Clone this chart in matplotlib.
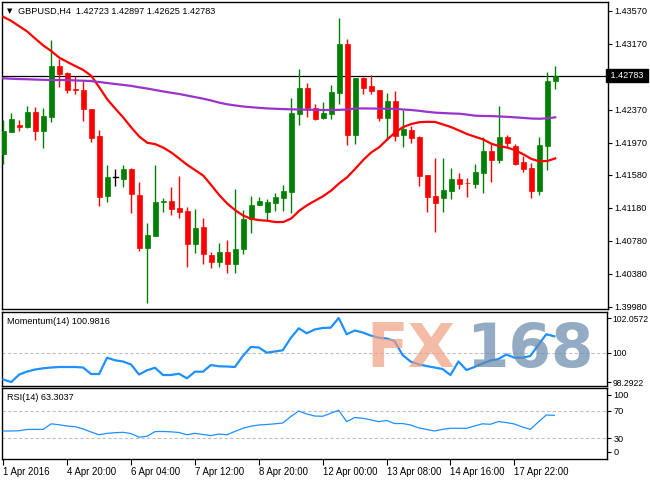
import matplotlib
matplotlib.use('Agg')
import matplotlib.pyplot as plt
from matplotlib.patches import Rectangle
import numpy as np

plt.rcParams['font.family'] = ['Liberation Sans', 'DejaVu Sans']

# ---------------- data ----------------
opens = [1.41830, 1.42104, 1.42189, 1.42161, 1.42342, 1.42116, 1.42285, 1.42900, 1.42819, 1.42618,
         1.42609, 1.42379, 1.42052, 1.41328, 1.41551, 1.41534, 1.41652, 1.41336, 1.40698, 1.40843,
         1.41248, 1.41264, 1.41175, 1.41146, 1.40746, 1.40945, 1.40609, 1.40528, 1.40642, 1.40496,
         1.40678, 1.41042, 1.41212, 1.41130, 1.41243, 1.41304, 1.41376, 1.42318, 1.42633, 1.42387,
         1.42273, 1.42322, 1.42573, 1.43167, 1.42064, 1.42751, 1.42658, 1.42609, 1.42273, 1.42476,
         1.42067, 1.42124, 1.42043, 1.41579, 1.41324, 1.41304, 1.41389, 1.41530, 1.41486, 1.41470,
         1.41607, 1.41870, 1.41761, 1.42043, 1.41934, 1.41736, 1.41667, 1.41389, 1.41934, 1.42723]
highs = [1.42245, 1.42327, 1.42245, 1.42415, 1.42399, 1.42387, 1.43215, 1.42985, 1.42827, 1.42779,
         1.42715, 1.42379, 1.42124, 1.41700, 1.41648, 1.41700, 1.41660, 1.41498, 1.40993, 1.41700,
         1.41296, 1.41437, 1.41567, 1.41195, 1.41167, 1.41054, 1.40649, 1.40758, 1.40791, 1.41405,
         1.41155, 1.41328, 1.41308, 1.41288, 1.41364, 1.41454, 1.42516, 1.42864, 1.42690, 1.42439,
         1.42464, 1.42670, 1.43485, 1.43224, 1.42751, 1.42770, 1.42791, 1.42609, 1.42569, 1.42601,
         1.42367, 1.42173, 1.42052, 1.41579, 1.41781, 1.41781, 1.41667, 1.41607, 1.41539, 1.41712,
         1.42036, 1.41963, 1.42415, 1.42064, 1.41955, 1.41809, 1.41721, 1.42043, 1.42831, 1.42897]
lows = [1.41709, 1.42100, 1.42116, 1.42149, 1.42003, 1.41902, 1.42225, 1.42649, 1.42576, 1.42561,
        1.42237, 1.41982, 1.41203, 1.41255, 1.41449, 1.41430, 1.41122, 1.40661, 1.40031, 1.40839,
        1.41127, 1.41094, 1.41061, 1.40467, 1.40637, 1.40496, 1.40455, 1.40460, 1.40387, 1.40395,
        1.40621, 1.40879, 1.41210, 1.41025, 1.41142, 1.41142, 1.41115, 1.42185, 1.42285, 1.42245,
        1.42261, 1.42261, 1.42436, 1.41942, 1.41955, 1.42561, 1.42561, 1.42233, 1.42003, 1.41995,
        1.41915, 1.41970, 1.41449, 1.41134, 1.40892, 1.41134, 1.41288, 1.41409, 1.41316, 1.41425,
        1.41357, 1.41498, 1.41728, 1.41922, 1.41700, 1.41615, 1.41304, 1.41336, 1.41639, 1.42625]
closes = [1.42112, 1.42258, 1.42164, 1.42342, 1.42116, 1.42294, 1.42900, 1.42803, 1.42609, 1.42609,
          1.42375, 1.42031, 1.41316, 1.41551, 1.41551, 1.41652, 1.41345, 1.40698, 1.40852, 1.41252,
          1.41264, 1.41170, 1.41130, 1.40746, 1.40933, 1.40618, 1.40521, 1.40642, 1.40496, 1.40682,
          1.41045, 1.41215, 1.41264, 1.41252, 1.41312, 1.41385, 1.42334, 1.42637, 1.42395, 1.42258,
          1.42330, 1.42585, 1.43167, 1.42064, 1.42751, 1.42637, 1.42601, 1.42273, 1.42476, 1.42055,
          1.42133, 1.42031, 1.41570, 1.41316, 1.41243, 1.41397, 1.41530, 1.41470, 1.41478, 1.41615,
          1.41870, 1.41761, 1.42043, 1.41970, 1.41712, 1.41655, 1.41389, 1.41942, 1.42718, 1.42783]

ma_red = [1.43496, 1.43447, 1.43382, 1.43318, 1.43232, 1.43149, 1.43081, 1.43001, 1.42949, 1.42900,
          1.42852, 1.42781, 1.42642, 1.42496, 1.42384, 1.42276, 1.42155, 1.42045, 1.41970, 1.41953,
          1.41911, 1.41852, 1.41778, 1.41702, 1.41637, 1.41572, 1.41456, 1.41336, 1.41232, 1.41152,
          1.41087, 1.41048, 1.41032, 1.41025, 1.41009, 1.41009, 1.41052, 1.41146, 1.41214, 1.41269,
          1.41323, 1.41391, 1.41479, 1.41553, 1.41654, 1.41761, 1.41853, 1.41916, 1.42010, 1.42096,
          1.42161, 1.42197, 1.42219, 1.42224, 1.42222, 1.42191, 1.42159, 1.42118, 1.42075, 1.42042,
          1.42010, 1.41959, 1.41929, 1.41912, 1.41879, 1.41831, 1.41775, 1.41745, 1.41749, 1.41780]
ma_purple = [1.42751, 1.42746, 1.42742, 1.42740, 1.42736, 1.42733, 1.42730, 1.42730, 1.42730, 1.42725,
             1.42722, 1.42717, 1.42706, 1.42694, 1.42682, 1.42671, 1.42659, 1.42642, 1.42627, 1.42609,
             1.42592, 1.42576, 1.42561, 1.42542, 1.42523, 1.42504, 1.42482, 1.42456, 1.42436, 1.42422,
             1.42409, 1.42401, 1.42393, 1.42386, 1.42382, 1.42378, 1.42375, 1.42373, 1.42370, 1.42369,
             1.42367, 1.42367, 1.42369, 1.42373, 1.42386, 1.42386, 1.42385, 1.42384, 1.42382, 1.42381,
             1.42373, 1.42367, 1.42357, 1.42345, 1.42335, 1.42330, 1.42325, 1.42322, 1.42311, 1.42298,
             1.42295, 1.42293, 1.42289, 1.42284, 1.42278, 1.42271, 1.42264, 1.42261, 1.42266, 1.42278]

momentum = [98.441, 98.2922, 98.735, 98.912, 99.029, 99.100, 99.147, 99.176, 99.176, 99.176,
            99.147, 98.765, 98.765, 99.724, 99.571, 99.500, 99.324, 98.735, 98.982, 99.135,
            98.706, 98.706, 98.782, 98.512, 98.900, 98.900, 99.294, 99.218, 99.206, 99.176,
            99.824, 100.353, 100.324, 100.018, 100.088, 100.159, 100.882, 101.453, 101.159, 101.382,
            101.471, 101.488, 102.0572, 101.100, 101.324, 101.206, 101.029, 100.900, 100.853, 100.706,
            99.882, 99.500, 99.335, 99.235, 99.147, 99.059, 98.706, 99.500, 99.000, 99.176,
            99.382, 99.559, 99.647, 99.912, 99.724, 99.724, 99.824, 100.471, 101.100, 100.9816]
rsi = [40.6, 40.6, 41.0, 42.8, 43.0, 43.0, 51.0, 49.6, 47.8, 46.8,
       43.5, 39.1, 35.1, 37.2, 38.1, 38.7, 36.8, 31.6, 32.9, 39.7,
       39.9, 39.4, 38.4, 35.1, 37.2, 35.5, 33.9, 36.2, 35.1, 39.9,
       44.5, 47.5, 49.3, 50.0, 51.0, 52.2, 61.4, 69.6, 65.2, 62.3,
       61.9, 66.2, 70.6, 54.1, 60.1, 59.1, 56.8, 54.1, 55.9, 51.4,
       51.4, 49.3, 45.2, 42.8, 40.6, 43.0, 44.5, 44.5, 44.5, 47.8,
       51.0, 50.3, 54.3, 52.8, 50.7, 46.4, 43.0, 53.6, 63.8, 63.3037]

price_ticks = [1.43570, 1.43170, 1.42370, 1.41970, 1.41580, 1.41180, 1.40780, 1.40380, 1.39980]
mom_ticks = [98.2922, 100, 102.0572]
mom_tick_labels = ['98.2922', '100', '102.0572']
rsi_levels = [30, 70]
rsi_tick_labels = ['0', '30', '70', '100']
time_tick_bars = [0, 8, 16, 24, 32, 40, 48, 56, 64]
time_labels = ['1 Apr 2016', '4 Apr 20:00', '6 Apr 04:00', '7 Apr 12:00', '8 Apr 20:00',
               '12 Apr 00:00', '13 Apr 08:00', '14 Apr 16:00', '17 Apr 22:00']
symbol = 'GBPUSD,H4'

# ---------------- layout ----------------
W, H = 650, 480
fig = plt.figure(figsize=(6.5, 4.8), dpi=100)
fig.patch.set_facecolor('white')

def px_axes(left, top, right, bottom):
    return fig.add_axes([left / W, 1 - bottom / H, (right - left) / W, (bottom - top) / H])

ax1 = px_axes(2, 2, 608, 309)
ax2 = px_axes(2, 312, 607, 386)
ax3 = px_axes(2, 388, 607, 459)

n = len(closes)
x = np.arange(n)
XL = (-0.16, 75.6)
FS = 6.6
GREEN = '#008000'
RED = '#FF0000'
BLUE = '#1E90FF'

for ax in (ax1, ax2, ax3):
    ax.set_xlim(*XL)
    ax.set_facecolor('white')
    for s in ax.spines.values():
        s.set_color('black')
        s.set_linewidth(1.0)
    ax.yaxis.tick_right()
    ax.tick_params(axis='y', direction='out', length=3, width=0.8, pad=1.5,
                   labelsize=FS, colors='black')
    ax.tick_params(axis='x', bottom=False, labelbottom=False)

# ---- candles ----
bw = 0.62
for i in range(n):
    o, h, l, c = opens[i], highs[i], lows[i], closes[i]
    if c > o:
        col = GREEN
    elif c < o:
        col = RED
    else:
        col = 'black'
    ax1.plot([i, i], [l, h], color=col, lw=1.0, solid_capstyle='butt', zorder=3)
    lo_b, hi_b = min(o, c), max(o, c)
    if hi_b - lo_b < 0.00003:
        ax1.plot([i - bw / 2, i + bw / 2], [o, o], color=col, lw=1.0, zorder=4)
    else:
        ax1.add_patch(Rectangle((i - bw / 2, lo_b), bw, hi_b - lo_b,
                                facecolor=col, edgecolor=col, lw=0.5, zorder=4))

ax1.plot(x, ma_red, color=RED, lw=1.6, zorder=5)
ax1.plot(x, ma_purple, color='#9933CC', lw=1.6, zorder=5)
ax1.axhline(closes[-1], color='black', lw=0.9, zorder=2)

ax1.set_ylim(1.39955, 1.43676)
ax1.set_yticks(price_ticks)
ax1.set_yticklabels(['%.5f' % v for v in price_ticks])

ax1.text(1.0, closes[-1], ' %.5f ' % closes[-1], transform=ax1.get_yaxis_transform(),
         ha='left', va='center', fontsize=FS, color='white', clip_on=False,
         bbox=dict(boxstyle='square,pad=0.25', facecolor='black', edgecolor='black'))

ax1.text(5 / 606, 1 - 9 / 307, '\u25BC', transform=ax1.transAxes, fontsize=5,
         va='center', ha='left', family=['DejaVu Sans'])
ax1.text(16 / 606, 1 - 9 / 307,
         '%s  %.5f %.5f %.5f %.5f' % (symbol, opens[-1], highs[-1], lows[-1], closes[-1]),
         transform=ax1.transAxes, fontsize=FS, va='center', ha='left')

# ---- momentum ----
ax2.set_ylim(98.06, 102.41)
ax2.axhline(100, color='#C0C0C0', lw=0.8, ls=(0, (3, 2)), zorder=1)
ax2.plot(x, momentum, color=BLUE, lw=1.6, zorder=3)
ax2.set_yticks(mom_ticks)
ax2.set_yticklabels(mom_tick_labels)
ax2.tick_params(axis='y', labelsize=FS - 0.4, pad=1.0)
ax2.text(5 / 605, 1 - 9 / 74, 'Momentum(14) %.4f' % momentum[-1], transform=ax2.transAxes,
         fontsize=FS, va='center', ha='left')

# watermark
fig.text(366 / W, 1 - 367 / H, 'FX', fontsize=44, fontweight='bold', color='#F0A080',
         alpha=0.7, ha='left', va='baseline', family=['DejaVu Sans'], zorder=10)
fig.text(466 / W, 1 - 367 / H, '168', fontsize=44, fontweight='bold', color='#6688AA',
         alpha=0.7, ha='left', va='baseline', family=['DejaVu Sans'], zorder=10)

# ---- RSI ----
ax3.set_ylim(0, 102.9)
for lv in rsi_levels:
    ax3.axhline(lv, color='#C0C0C0', lw=0.8, ls=(0, (3, 2)), zorder=1)
ax3.plot(x, rsi, color=BLUE, lw=0.9, zorder=3)
ax3.set_yticks([10.6, 30, 70, 92.8])
ax3.set_yticklabels(rsi_tick_labels)
ax3.text(5 / 605, 1 - 9 / 71, 'RSI(14) %.4f' % rsi[-1], transform=ax3.transAxes,
         fontsize=FS, va='center', ha='left')

ax3.tick_params(axis='x', bottom=True, labelbottom=True, direction='out', length=4,
                width=0.8, pad=1.5, labelsize=FS + 0.3, colors='black')
ax3.set_xticks(time_tick_bars)
ax3.set_xticklabels(time_labels)
for lbl in ax3.get_xticklabels():
    lbl.set_horizontalalignment('left')

fig.savefig('out.png', dpi=100, facecolor='white')
